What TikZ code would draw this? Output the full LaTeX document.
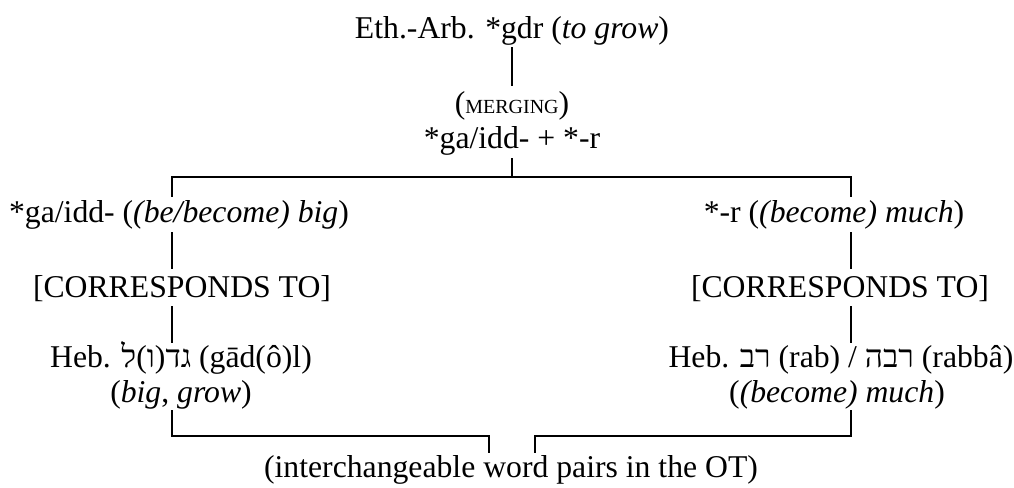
\documentclass[tikz,border=0pt]{standalone}
\usepackage{fontspec}
\setmainfont{Liberation Serif}
\newfontfamily\hebfont[Script=Hebrew]{Liberation Serif}
\TeXXeTstate=1
\newcommand{\heb}[1]{{\hebfont\beginR #1\endR}}
\newcommand{\fakesc}[1]{{\fontsize{20}{24}\selectfont #1}}
\begin{document}
\begin{tikzpicture}[x=1pt,y=-1pt,
  lbl/.style={inner sep=0pt, anchor=base, text height=21pt, text depth=6pt,
              font=\fontsize{31.7}{36}\selectfont},
  tree/.style={line width=2.6pt}]
\useasboundingbox (0,0) rectangle (1014,487);

% column positions of the tree lines
\coordinate (colL) at (172,0);
\coordinate (colM) at (512,0);
\coordinate (colR) at (851,0);
\coordinate (inL) at (489,0);
\coordinate (inR) at (535,0);
\coordinate (fork) at (512,177);
\coordinate (join) at (512,436);

% labels
\node[lbl] (root)   at (512,38)  {Eth.-Arb. *gdr (\textit{to grow})};
\node[lbl] (merge)  at (512,113) {(\fakesc{MERGING})};
\node[lbl] (parts)  at (512,148) {*ga/idd- + *-r};

\node[lbl] (gaL)    at (179,222) {*ga/idd- (\textit{(be/become) big})};
\node[lbl] (corrL)  at (182,297) {[CORRESPONDS TO]};
\node[lbl] (hebL)   at (181,367) {Heb. \heb{גד(ו)ל} (gād(ô)l)};
\node[lbl] (glossL) at (181,402) {(\textit{big}, \textit{grow})};

\node[lbl] (rR)     at (834,222) {*-r (\textit{(become) much})};
\node[lbl] (corrR)  at (840,297) {[CORRESPONDS TO]};
\node[lbl] (hebR)   at (841,367) {Heb. \heb{רב} (rab) / \heb{רבה} (rabbâ)};
\node[lbl] (glossR) at (837,402) {(\textit{(become) much})};

\node[lbl] (pairs)  at (511,477) {(interchangeable word pairs in the OT)};

% connectors
\draw[tree, shorten <=3, shorten >=5.6] (root.south) -- (merge.north);
\draw[tree, shorten <=4] (parts.south) -- (fork);
\draw[tree, shorten <=4, shorten >=4]
  (colL |- gaL.north) -- (colL |- fork) -- (colR |- fork) -- (colR |- rR.north);

\draw[tree, shorten <=4, shorten >=7] (colL |- gaL.south) -- (colL |- corrL.north);
\draw[tree, shorten <=3, shorten >=3] (colL |- corrL.south) -- (colL |- hebL.north);
\draw[tree, shorten <=4, shorten >=7] (colR |- rR.south) -- (colR |- corrR.north);
\draw[tree, shorten <=3, shorten >=3] (colR |- corrR.south) -- (colR |- hebR.north);

\draw[tree, shorten <=2, shorten >=3]
  (colL |- glossL.south) -- (colL |- join) -- (inL |- join) -- (inL |- pairs.north);
\draw[tree, shorten <=2, shorten >=3]
  (colR |- glossR.south) -- (colR |- join) -- (inR |- join) -- (inR |- pairs.north);
\end{tikzpicture}
\end{document}
